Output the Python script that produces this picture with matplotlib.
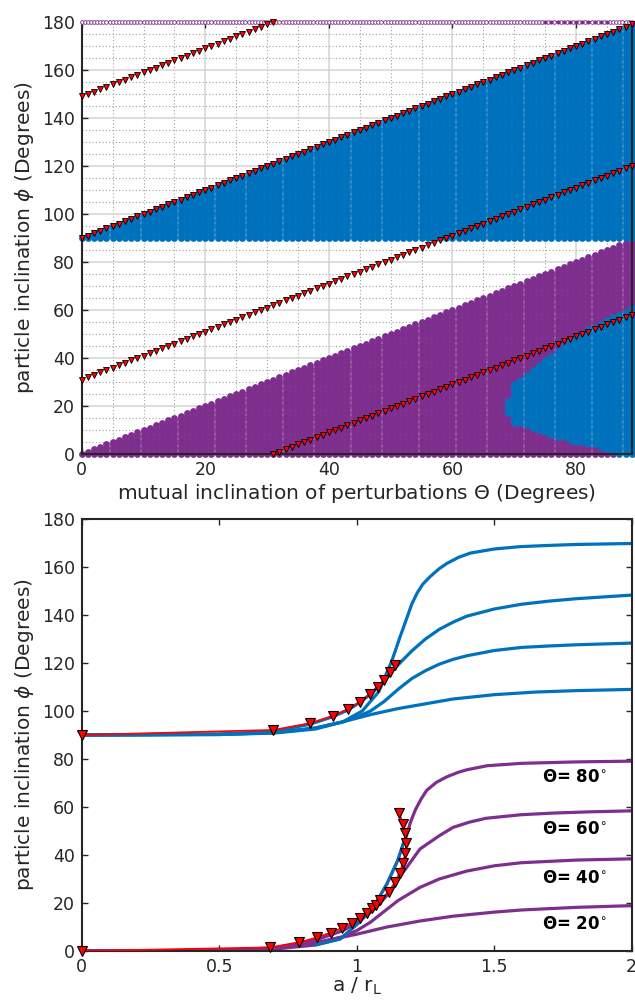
import numpy as np
import matplotlib.pyplot as plt
from matplotlib.ticker import MultipleLocator, FormatStrFormatter

BLUE = '#0072BD'
PURPLE = '#7E2F8E'
INK = '#262626'

# ---- top panel: map of runs over (Theta, phi) ----
theta_cols = np.arange(0, 90)          # one column per degree of Theta
phi_rows = np.arange(0, 181)           # one row per degree of phi

# red triangle tracks, phi = Theta + offset
track_offsets = [149, 90, 31, -31]

# blue island inside the purple wedge, per column
island_theta = [69, 70, 71, 72, 73, 74, 75, 76, 77, 78, 79,
                80, 81, 82, 83, 84, 85, 86, 87, 88, 89]
island_lo = [17, 13, 12.5, 11.5, 10.5, 9.5, 8.5, 7.5, 7, 6.5, 6,
             5, 4.5, 4, 3.5, 3, 2, 1, 0, 0, 0]
island_hi = [22, 29, 31, 33, 35, 37, 39, 41, 43, 45.5, 47.5,
             49, 50.5, 52, 53, 54.5, 56, 57, 58, 59.5, 61]

# row of runs at phi = 180 (open), the filled ones listed here
top_row_theta = np.arange(0, 89.5, 0.5)
top_row_filled = [75, 76, 77, 78, 79, 80, 81, 82, 83, 84, 85, 89]

# ---- bottom panel: phi against a / r_L ----
b80_a = [0, 0.5, 0.7, 0.85, 0.95, 1.02, 1.08, 1.128, 1.158, 1.183, 1.2, 1.219,
         1.24, 1.267, 1.3, 1.328, 1.37, 1.413, 1.5, 1.595, 1.7, 1.8, 2.0]
b80_phi = [90, 90.2, 90.8, 92.5, 95.5, 100, 108, 121, 131, 139, 144.5, 149,
           152.8, 156, 159.3, 161.5, 164, 165.8, 167.5, 168.5, 169, 169.4, 169.8]
b60_a = [0, 0.5, 0.7, 0.83, 0.91, 0.97, 1.01, 1.05, 1.1, 1.14, 1.2,
         1.25, 1.3, 1.35, 1.4, 1.5, 1.6, 1.7, 1.8, 2.0]
b60_phi = [90, 90.4, 91.5, 94.5, 97.5, 100.5, 103.5, 107, 112.5, 118, 125,
           130, 134, 137, 139.5, 142.5, 144.5, 145.8, 146.8, 148.3]
b40_a = [0, 0.5, 0.7, 0.85, 0.95, 1.0, 1.05, 1.1, 1.15, 1.2, 1.25, 1.3,
         1.35, 1.4, 1.5, 1.6, 1.7, 1.8, 2.0]
b40_phi = [90, 90.3, 91, 92.8, 95.5, 97.5, 100, 104, 109, 113.5, 116.8, 119.5,
           121.5, 123, 125.2, 126.5, 127.1, 127.6, 128.3]
b20_a = [0, 0.5, 0.7, 0.85, 0.95, 1.05, 1.15, 1.25, 1.35, 1.5, 1.65, 1.8, 2.0]
b20_phi = [90, 90.2, 91, 93, 95.5, 98.5, 101, 103, 105, 106.8, 107.9, 108.5, 109]

p80_a = [0, 0.5, 0.7, 0.85, 0.94, 1.01, 1.07, 1.11, 1.15, 1.17, 1.18, 1.195,
         1.213, 1.235, 1.255, 1.29, 1.328, 1.37, 1.4, 1.474, 1.6, 1.8, 2.0]
p80_phi = [0, 0.2, 0.8, 2.5, 5, 12, 20, 28, 38, 45, 47.6, 53.5,
           58.75, 63.5, 67, 70.3, 72.6, 74.5, 75.5, 77.2, 78.2, 78.8, 79.1]
p60_a = [0, 0.5, 0.7, 0.85, 0.95, 1.01, 1.07, 1.12, 1.17, 1.23, 1.3,
         1.35, 1.41, 1.47, 1.6, 1.72, 1.85, 2.0]
p60_phi = [0, 0.3, 1.3, 4.5, 8.5, 12.5, 18, 24.5, 33, 42.5, 48,
           51.5, 53.7, 55.3, 56.8, 57.5, 58, 58.4]
p40_a = [0, 0.5, 0.7, 0.85, 0.95, 1.0, 1.05, 1.1, 1.15, 1.23, 1.3,
         1.4, 1.5, 1.6, 1.8, 2.0]
p40_phi = [0, 0.2, 1, 3.2, 6, 8.5, 12, 16.5, 21, 26.5, 30,
           33.3, 35.5, 36.8, 37.9, 38.4]
p20_a = [0, 0.5, 0.7, 0.87, 1.0, 1.11, 1.23, 1.35, 1.5, 1.6, 1.8, 2.0]
p20_phi = [0, 0.2, 1, 3.9, 7, 10, 12.5, 14.5, 16.2, 17.1, 18.2, 18.9]

upper_mark_a = [0, 0.697, 0.831, 0.913, 0.967, 1.013, 1.049, 1.076, 1.100, 1.122, 1.140]
upper_mark_phi = [90, 92.1, 94.9, 97.9, 100.7, 103.9, 107.1, 110.1, 112.9, 116.1, 119.2]
lower_mark_a = [0, 0.685, 0.791, 0.857, 0.906, 0.946, 0.982, 1.012, 1.036, 1.056, 1.069,
                1.085, 1.116, 1.140, 1.156, 1.168, 1.177, 1.180, 1.174, 1.168, 1.155]
lower_mark_phi = [0, 1.5, 3.6, 5.7, 7.7, 9.6, 11.7, 13.8, 15.7, 17.8, 19,
                  21.1, 24.7, 28.7, 32.5, 36.7, 40.7, 44.9, 49, 52.9, 57.4]

label_texts = ['80', '60', '40', '20']
label_phi = [72.6, 51, 30.3, 11.3]


def style_axes(ax):
    for side in ax.spines.values():
        side.set_linewidth(1.5)
        side.set_color(INK)
    ax.tick_params(which='major', direction='in', length=4, width=1,
                   top=True, right=True, labelsize=12.5, colors=INK, pad=5)
    ax.tick_params(which='minor', length=0)


def build_map():
    """Split the (Theta, phi) grid into the blue and purple runs."""
    th, ph = np.meshgrid(theta_cols, phi_rows)
    th, ph = th.ravel(), ph.ravel()
    blue = (ph >= 90) & (ph <= th + 90)
    purple = ph <= th
    lo = np.full(theta_cols.size, np.inf)
    hi = np.full(theta_cols.size, -np.inf)
    lo[island_theta] = island_lo
    hi[island_theta] = island_hi
    island = purple & (ph >= lo[th]) & (ph <= hi[th])
    return th, ph, blue | island, purple & ~island


def draw_top(ax):
    th, ph, blue, purple = build_map()
    ax.scatter(th[purple], ph[purple], s=24, c=PURPLE, linewidths=0,
               clip_on=False, zorder=2)
    ax.scatter(th[blue], ph[blue], s=24, c=BLUE, linewidths=0,
               clip_on=False, zorder=2)

    filled = np.isin(top_row_theta, top_row_filled)
    ax.scatter(top_row_theta[~filled], np.full((~filled).sum(), 180), s=7,
               facecolors='white', edgecolors=PURPLE, linewidths=0.6,
               clip_on=False, zorder=3)
    ax.scatter(top_row_theta[filled], np.full(filled.sum(), 180), s=9,
               c=PURPLE, linewidths=0, clip_on=False, zorder=3)

    for off in track_offsets:
        phi = theta_cols + off
        keep = (phi >= 0) & (phi <= 180)
        ax.plot(theta_cols[keep], phi[keep], 'v', ms=5, mfc='red', mec='black',
                mew=0.6, clip_on=False, zorder=4)

    ax.set_xlim(0, 89)
    ax.set_ylim(0, 180)
    ax.xaxis.set_major_locator(MultipleLocator(20))
    ax.yaxis.set_major_locator(MultipleLocator(20))
    ax.xaxis.set_minor_locator(MultipleLocator(5))
    ax.yaxis.set_minor_locator(MultipleLocator(5))
    ax.set_axisbelow(True)
    ax.grid(which='major', color='#d4d4d4', linewidth=1.1)
    ax.grid(which='minor', color='#a0a0a0', linewidth=0.8, linestyle=(0, (1, 2)))
    ax.set_xlabel(r'mutual inclination of perturbations $\Theta$ (Degrees)',
                  fontsize=14.5, color=INK, labelpad=2)
    ax.set_ylabel(r'particle inclination $\phi$ (Degrees)', fontsize=14.5,
                  color=INK, labelpad=4)
    style_axes(ax)


def draw_bottom(ax):
    for a, phi in [(b20_a, b20_phi), (b40_a, b40_phi), (b60_a, b60_phi), (b80_a, b80_phi)]:
        ax.plot(a, phi, color=BLUE, lw=2.3, zorder=2)
    for a, phi in [(p20_a, p20_phi), (p40_a, p40_phi), (p60_a, p60_phi), (p80_a, p80_phi)]:
        ax.plot(a, phi, color=PURPLE, lw=2.3, zorder=2)
    # lower part of the 80 degree track is drawn in blue
    p80 = np.array(p80_a)
    part = (p80 >= 0.85) & (p80 <= 1.17)
    ax.plot(p80[part], np.array(p80_phi)[part], color=BLUE, lw=2.0, zorder=3)

    for a, phi in [(upper_mark_a, upper_mark_phi), (lower_mark_a, lower_mark_phi)]:
        ax.plot(a, phi, color='red', lw=1.3, zorder=4)
        ax.plot(a, phi, 'v', ms=7, mfc='red', mec='black', mew=0.8,
                clip_on=False, zorder=5)

    for txt, phi in zip(label_texts, label_phi):
        ax.text(1.79, phi, 'Θ= ' + txt + r'$^{\circ}$', ha='center',
                va='center', fontsize=12, fontweight='bold', color='black')

    ax.set_xlim(0, 2)
    ax.set_ylim(0, 180)
    ax.xaxis.set_major_locator(MultipleLocator(0.5))
    ax.yaxis.set_major_locator(MultipleLocator(20))
    ax.xaxis.set_major_formatter(FormatStrFormatter('%g'))
    ax.set_xlabel(r'a / r$_\mathrm{L}$', fontsize=14.5, color=INK, labelpad=0)
    ax.set_ylabel(r'particle inclination $\phi$ (Degrees)', fontsize=14.5,
                  color=INK, labelpad=4)
    style_axes(ax)


def main():
    fig = plt.figure(figsize=(6.35, 10.07), dpi=100)
    ax_top = fig.add_axes([0.1287, 0.5492, 0.8661, 0.4290])
    ax_bot = fig.add_axes([0.1287, 0.0556, 0.8661, 0.4290])
    draw_top(ax_top)
    draw_bottom(ax_bot)
    fig.savefig('out.png', dpi=100)


if __name__ == '__main__':
    main()
